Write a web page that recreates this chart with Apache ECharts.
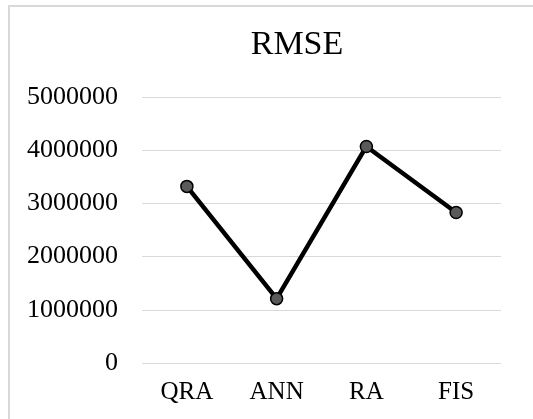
<!DOCTYPE html>
<html>
<head>
<meta charset="utf-8">
<script src="https://cdn.jsdelivr.net/npm/echarts@6/dist/echarts.min.js"></script>
<style>
html,body{margin:0;padding:0;background:#fff;}
#main{width:533px;height:419px;}
</style>
</head>
<body>
<div id="main"></div>
<script>
var categories = ['QRA', 'ANN', 'RA', 'FIS'];
var rmseValues = [3320000, 1210000, 4070000, 2830000];
var yTicks = [0, 1000000, 2000000, 3000000, 4000000, 5000000];

var chart = echarts.init(document.getElementById('main'));
var font = '"Liberation Serif", "Times New Roman", serif';
chart.setOption({
  animation: false,
  backgroundColor: '#fff',
  graphic: [{
    type: 'rect',
    shape: { x: 9, y: 6, width: 700, height: 600 },
    style: { fill: 'none', stroke: '#d9d9d9', lineWidth: 2 },
    silent: true
  }],
  title: {
    text: 'RMSE',
    left: 292,
    top: 23,
    textAlign: 'center',
    textStyle: { fontFamily: font, fontSize: 34, fontWeight: 'normal', color: '#000' }
  },
  grid: { left: 142, right: 32, top: 97, bottom: 56, containLabel: false },
  xAxis: {
    type: 'category',
    data: categories,
    boundaryGap: true,
    axisLine: { show: false },
    axisTick: { show: false },
    axisLabel: { fontFamily: font, fontSize: 25, color: '#000', margin: 17 }
  },
  yAxis: {
    type: 'value',
    min: yTicks[0],
    max: yTicks[yTicks.length - 1],
    interval: yTicks[1] - yTicks[0],
    axisLine: { show: false },
    axisTick: { show: false },
    splitLine: { lineStyle: { color: '#d9d9d9', width: 1 } },
    axisLabel: { fontFamily: font, fontSize: 26, color: '#000', margin: 24,
      formatter: function (v) { return String(v); } }
  },
  series: [{
    type: 'line',
    data: rmseValues,
    symbol: 'circle',
    symbolSize: 12,
    lineStyle: { color: '#000', width: 4.5 },
    itemStyle: { color: '#5a5a5a', borderColor: '#000', borderWidth: 1.5 }
  }]
});
</script>
</body>
</html>
